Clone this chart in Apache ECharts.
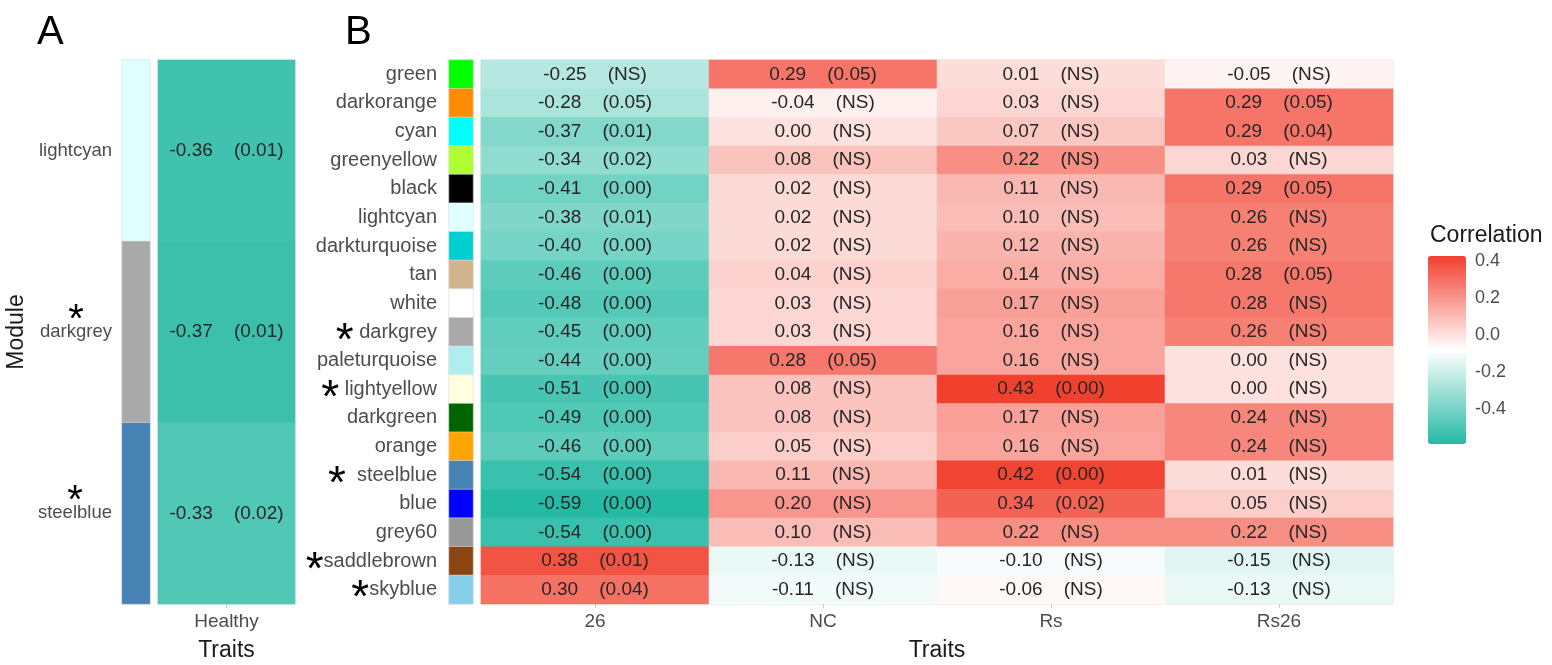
<!DOCTYPE html>
<html>
<head>
<meta charset="utf-8">
<title>Module–trait correlation</title>
<script src="https://cdn.jsdelivr.net/npm/echarts@6/dist/echarts.min.js"></script>
<style>
  html, body { margin: 0; padding: 0; background: #ffffff; }
  #chart { width: 1552px; height: 665px; }
</style>
</head>
<body>
<div id="chart"></div>
<script>
// ---- Panel A: modules vs. the Healthy trait ----
const healthyTraits = ['Healthy'];
const healthyModules = ['lightcyan', 'darkgrey', 'steelblue'];
const healthyCorr = [-0.36, -0.37, -0.33];
const healthyP = ['0.01', '0.01', '0.02'];

// ---- Panel B: modules vs. treatment traits ----
const traits = ['26', 'NC', 'Rs', 'Rs26'];
const modules = ['green', 'darkorange', 'cyan', 'greenyellow', 'black', 'lightcyan',
  'darkturquoise', 'tan', 'white', 'darkgrey', 'paleturquoise', 'lightyellow',
  'darkgreen', 'orange', 'steelblue', 'blue', 'grey60', 'saddlebrown', 'skyblue'];
const corr26   = [-0.25, -0.28, -0.37, -0.34, -0.41, -0.38, -0.40, -0.46, -0.48, -0.45, -0.44, -0.51, -0.49, -0.46, -0.54, -0.59, -0.54, 0.38, 0.30];
const corrNC   = [0.29, -0.04, 0.00, 0.08, 0.02, 0.02, 0.02, 0.04, 0.03, 0.03, 0.28, 0.08, 0.08, 0.05, 0.11, 0.20, 0.10, -0.13, -0.11];
const corrRs   = [0.01, 0.03, 0.07, 0.22, 0.11, 0.10, 0.12, 0.14, 0.17, 0.16, 0.16, 0.43, 0.17, 0.16, 0.42, 0.34, 0.22, -0.10, -0.06];
const corrRs26 = [-0.05, 0.29, 0.29, 0.03, 0.29, 0.26, 0.26, 0.28, 0.28, 0.26, 0.00, 0.00, 0.24, 0.24, 0.01, 0.05, 0.22, -0.15, -0.13];
const p26   = ['NS', '0.05', '0.01', '0.02', '0.00', '0.01', '0.00', '0.00', '0.00', '0.00', '0.00', '0.00', '0.00', '0.00', '0.00', '0.00', '0.00', '0.01', '0.04'];
const pNC   = ['0.05', 'NS', 'NS', 'NS', 'NS', 'NS', 'NS', 'NS', 'NS', 'NS', '0.05', 'NS', 'NS', 'NS', 'NS', 'NS', 'NS', 'NS', 'NS'];
const pRs   = ['NS', 'NS', 'NS', 'NS', 'NS', 'NS', 'NS', 'NS', 'NS', 'NS', 'NS', '0.00', 'NS', 'NS', '0.00', '0.02', 'NS', 'NS', 'NS'];
const pRs26 = ['NS', '0.05', '0.04', 'NS', '0.05', 'NS', 'NS', '0.05', 'NS', 'NS', 'NS', 'NS', 'NS', 'NS', 'NS', 'NS', 'NS', 'NS', 'NS'];

// hub modules marked with an asterisk
const hubModules = ['darkgrey', 'lightyellow', 'steelblue', 'saddlebrown', 'skyblue'];

// colour scale of the correlation legend
const colorMin = -0.59;
const colorMax = 0.43;
const legendTicks = [-0.4, -0.2, 0.0, 0.2, 0.4];

// swatch colour of each module name
const moduleColors = {
  green: '#00ff00', darkorange: '#ff8c00', cyan: '#00ffff', greenyellow: '#adff2f',
  black: '#000000', lightcyan: '#e0ffff', darkturquoise: '#00ced1', tan: '#d2b48c',
  white: '#ffffff', darkgrey: '#a9a9a9', paleturquoise: '#afeeee', lightyellow: '#ffffe0',
  darkgreen: '#006400', orange: '#ffa500', steelblue: '#4682b4', blue: '#0000ff',
  grey60: '#999999', saddlebrown: '#8b4513', skyblue: '#87ceeb'
};

const FONT = '"Liberation Sans", Arial, Helvetica, sans-serif';
const AXIS_GREY = '#4d4d4d';
const TEAL = '#25baa4';
const WHITE = '#ffffff';
const RED = '#f2402f';

// ---- build series data ----
const corrB = [corr26, corrNC, corrRs, corrRs26];
const pB = [p26, pNC, pRs, pRs26];
const heatB = [];
traits.forEach((t, xi) => {
  modules.forEach((m, yi) => {
    heatB.push({ value: [xi, yi, corrB[xi][yi]], p: pB[xi][yi] });
  });
});
const heatA = healthyModules.map((m, yi) => ({ value: [0, yi, healthyCorr[yi]], p: healthyP[yi] }));
const stripA = healthyModules.map((m, yi) => ({ value: [0, yi, 0], itemStyle: { color: moduleColors[m] } }));
const stripB = modules.map((m, yi) => ({ value: [0, yi, 0], itemStyle: { color: moduleColors[m] } }));

// "r    (p)" text inside each cell
function cellLabel(params) {
  return params.data.value[2].toFixed(2) + '    (' + params.data.p + ')';
}
const cellLabelStyle = { show: true, formatter: cellLabel, color: '#262626', fontSize: 19, fontFamily: FONT };

const chart = echarts.init(document.getElementById('chart'), null, { renderer: 'canvas' });

const xCatAxisStyle = {
  axisLine: { show: false },
  axisTick: { show: true, alignWithLabel: true, length: 4, lineStyle: { color: '#c8c8c8' } },
  axisLabel: { color: AXIS_GREY, fontSize: 19, fontFamily: FONT, margin: 8 },
  splitLine: { show: false },
  nameLocation: 'middle',
  nameTextStyle: { color: '#1a1a1a', fontSize: 23, fontFamily: FONT }
};

// fixed panel boxes; axis labels may sit outside them
const gridBox = (left, top, width, height, framed) => ({
  left, top, width, height, outerBoundsMode: 'none', containLabel: false,
  show: framed, borderColor: '#dcdcdc', borderWidth: 1
});

const option = {
  animation: false,
  backgroundColor: '#ffffff',
  title: [
    { text: 'A', left: 32, top: 8, textStyle: { fontSize: 40, fontWeight: 'normal', color: '#000', fontFamily: FONT } },
    { text: 'B', left: 340, top: 8, textStyle: { fontSize: 40, fontWeight: 'normal', color: '#000', fontFamily: FONT } },
    { text: 'Correlation', left: 1425, top: 219, textStyle: { fontSize: 23, fontWeight: 'normal', color: '#1a1a1a', fontFamily: FONT } }
  ],
  grid: [
    gridBox(122, 60, 28, 544, true),
    gridBox(158, 60, 137, 544, true),
    gridBox(449, 60, 24, 544, true),
    gridBox(481, 60, 912, 544, true),
    gridBox(1428, 256, 38, 188, false)
  ],
  xAxis: [
    { type: 'category', gridIndex: 0, data: [''], show: false },
    Object.assign({ type: 'category', gridIndex: 1, data: healthyTraits, name: 'Traits', nameGap: 35 }, xCatAxisStyle),
    { type: 'category', gridIndex: 2, data: [''], show: false },
    Object.assign({ type: 'category', gridIndex: 3, data: traits, name: 'Traits', nameGap: 35 }, xCatAxisStyle),
    { type: 'value', gridIndex: 4, min: 0, max: 1, show: false }
  ],
  yAxis: [
    {
      type: 'category', gridIndex: 0, data: healthyModules, inverse: true,
      axisLine: { show: false }, axisTick: { show: false }, splitLine: { show: false },
      name: 'Module', nameLocation: 'middle', nameRotate: 90, nameGap: 94,
      nameTextStyle: { color: '#1a1a1a', fontSize: 23, fontFamily: FONT },
      axisLabel: {
        interval: 0, margin: 10,
        formatter: (name) => hubModules.includes(name)
          ? '{s|*}\n{t|' + name + '}\n{e| }'
          : '{t|' + name + '}',
        rich: {
          s: { fontSize: 40, fontFamily: FONT, color: '#000', lineHeight: 1, align: 'center' },
          t: { fontSize: 18.5, fontFamily: FONT, color: AXIS_GREY, lineHeight: 22 },
          e: { fontSize: 1, lineHeight: 1 }
        }
      }
    },
    { type: 'category', gridIndex: 1, data: healthyModules, inverse: true, show: false },
    {
      type: 'category', gridIndex: 2, data: modules, inverse: true,
      axisLine: { show: false }, axisTick: { show: false }, splitLine: { show: false },
      axisLabel: {
        interval: 0, margin: 12,
        formatter: (name) => {
          if (!hubModules.includes(name)) return '{t|' + name + '}';
          const gap = (name === 'saddlebrown' || name === 'skyblue') ? '' : (name === 'steelblue' ? '{g|  }' : '{g| }');
          return '{s|*}' + gap + '{t|' + name + '}';
        },
        rich: {
          s: { fontSize: 46, fontFamily: FONT, color: '#000', padding: [20, 0, 0, 0] },
          g: { fontSize: 20, fontFamily: FONT },
          t: { fontSize: 20, fontFamily: FONT, color: AXIS_GREY }
        }
      }
    },
    { type: 'category', gridIndex: 3, data: modules, inverse: true, show: false },
    {
      type: 'value', gridIndex: 4, min: colorMin, max: colorMax, position: 'left',
      axisLine: { show: false }, splitLine: { show: false },
      axisLabel: { show: false },
      axisTick: { show: true, inside: true, length: 7, customValues: legendTicks, lineStyle: { color: '#ffffff', width: 1 } }
    },
    {
      type: 'value', gridIndex: 4, min: colorMin, max: colorMax, position: 'right',
      axisLine: { show: false }, splitLine: { show: false },
      axisTick: { show: true, inside: true, length: 7, customValues: legendTicks, lineStyle: { color: '#ffffff', width: 1 } },
      axisLabel: {
        show: true, customValues: legendTicks, margin: 9,
        color: AXIS_GREY, fontSize: 18, fontFamily: FONT,
        formatter: (v) => v.toFixed(1)
      }
    }
  ],
  visualMap: [
    {
      type: 'continuous', seriesIndex: 3, min: colorMin, max: colorMax,
      calculable: false, hoverLink: false, show: true, realtime: false,
      left: 1428, top: 256, padding: 0, itemWidth: 38, itemHeight: 188,
      text: null, showLabel: false, z: 1,
      inRange: { color: [TEAL, WHITE, RED] }
    },
    {
      type: 'continuous', seriesIndex: 1, min: -0.37, max: 0.37, show: false,
      inRange: { color: ['#3cc0ac', WHITE, RED] }
    }
  ],
  series: [
    {
      type: 'heatmap', name: 'moduleStripA', xAxisIndex: 0, yAxisIndex: 0, data: stripA,
      itemStyle: { borderColor: '#e4e4e4', borderWidth: 0.5 }, emphasis: { disabled: true }
    },
    {
      type: 'heatmap', name: 'Healthy', xAxisIndex: 1, yAxisIndex: 1, data: heatA,
      label: cellLabelStyle, emphasis: { disabled: true }
    },
    {
      type: 'heatmap', name: 'moduleStripB', xAxisIndex: 2, yAxisIndex: 2, data: stripB,
      itemStyle: { borderColor: '#e4e4e4', borderWidth: 0.5 }, emphasis: { disabled: true }
    },
    {
      type: 'heatmap', name: 'Correlation', xAxisIndex: 3, yAxisIndex: 3, data: heatB,
      label: cellLabelStyle, emphasis: { disabled: true }
    }
  ]
};

chart.setOption(option);
</script>
</body>
</html>
